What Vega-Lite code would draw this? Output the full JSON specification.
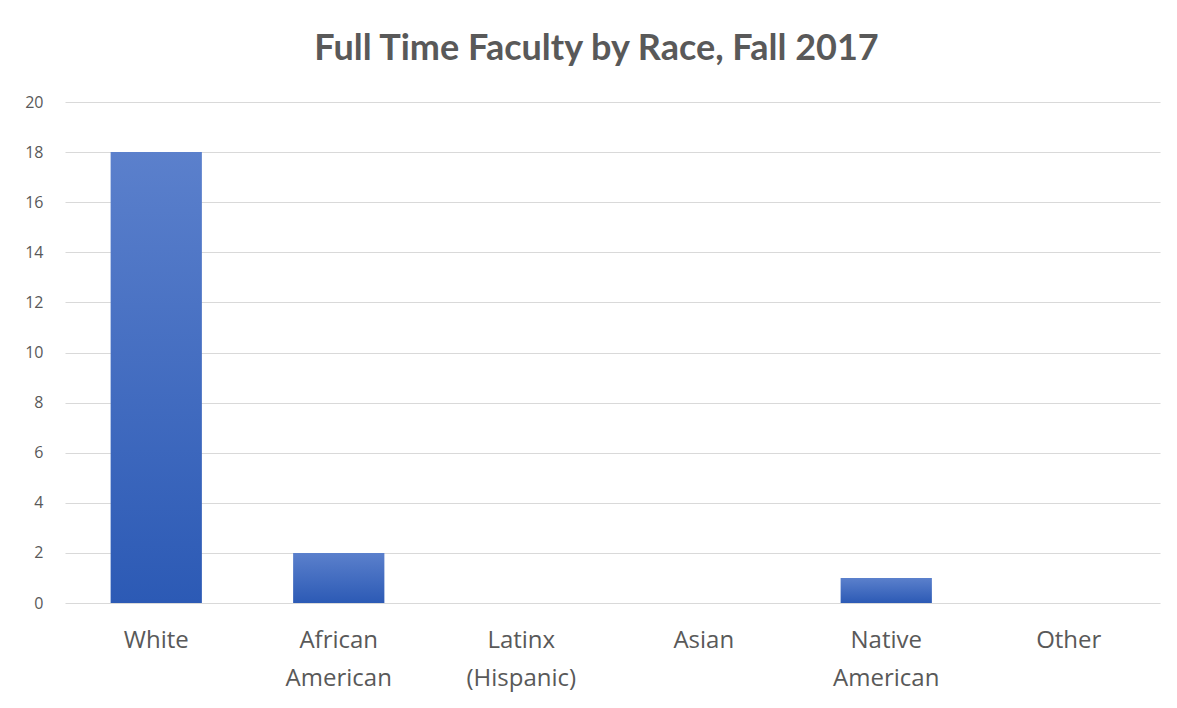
{
  "$schema": "https://vega.github.io/schema/vega-lite/v6.json",
  "width": 1095,
  "height": 501,
  "autosize": "none",
  "padding": {"left": 65, "top": 102, "right": 17, "bottom": 105},
  "background": "white",
  "title": {
    "text": "Full Time Faculty by Race, Fall 2017",
    "font": "Lato",
    "fontSize": 36,
    "fontWeight": "bold",
    "color": "#595959",
    "anchor": "middle",
    "offset": 26,
    "dx": -16
  },
  "data": {
    "values": [
      {"race": "White", "count": 18},
      {"race": "African American", "count": 2},
      {"race": "Latinx (Hispanic)", "count": 0},
      {"race": "Asian", "count": 0},
      {"race": "Native American", "count": 1},
      {"race": "Other", "count": 0}
    ]
  },
  "mark": {
    "type": "bar",
    "color": {
      "gradient": "linear",
      "x1": 0, "y1": 0, "x2": 0, "y2": 1,
      "stops": [
        {"offset": 0, "color": "#5b80cc"},
        {"offset": 1, "color": "#2c5ab5"}
      ]
    }
  },
  "encoding": {
    "x": {
      "field": "race",
      "type": "nominal",
      "sort": null,
      "scale": {"paddingInner": 0.5, "paddingOuter": 0.25},
      "axis": {
        "title": null,
        "labelAngle": 0,
        "labelExpr": "split(datum.label, ' ')",
        "labelFont": "Open Sans",
        "labelFontSize": 24,
        "labelColor": "#595959",
        "labelLineHeight": 38,
        "labelPadding": 25,
        "ticks": false,
        "domain": false,
        "grid": false
      }
    },
    "y": {
      "field": "count",
      "type": "quantitative",
      "scale": {"domain": [0, 20], "nice": false},
      "axis": {
        "title": null,
        "values": [0, 2, 4, 6, 8, 10, 12, 14, 16, 18, 20],
        "labelFont": "Open Sans",
        "labelFontSize": 16,
        "labelColor": "#595959",
        "labelPadding": 22,
        "ticks": false,
        "domain": false,
        "grid": true,
        "gridColor": "#d9d9d9",
        "gridWidth": 1
      }
    }
  },
  "config": {
    "view": {"stroke": null}
  }
}
